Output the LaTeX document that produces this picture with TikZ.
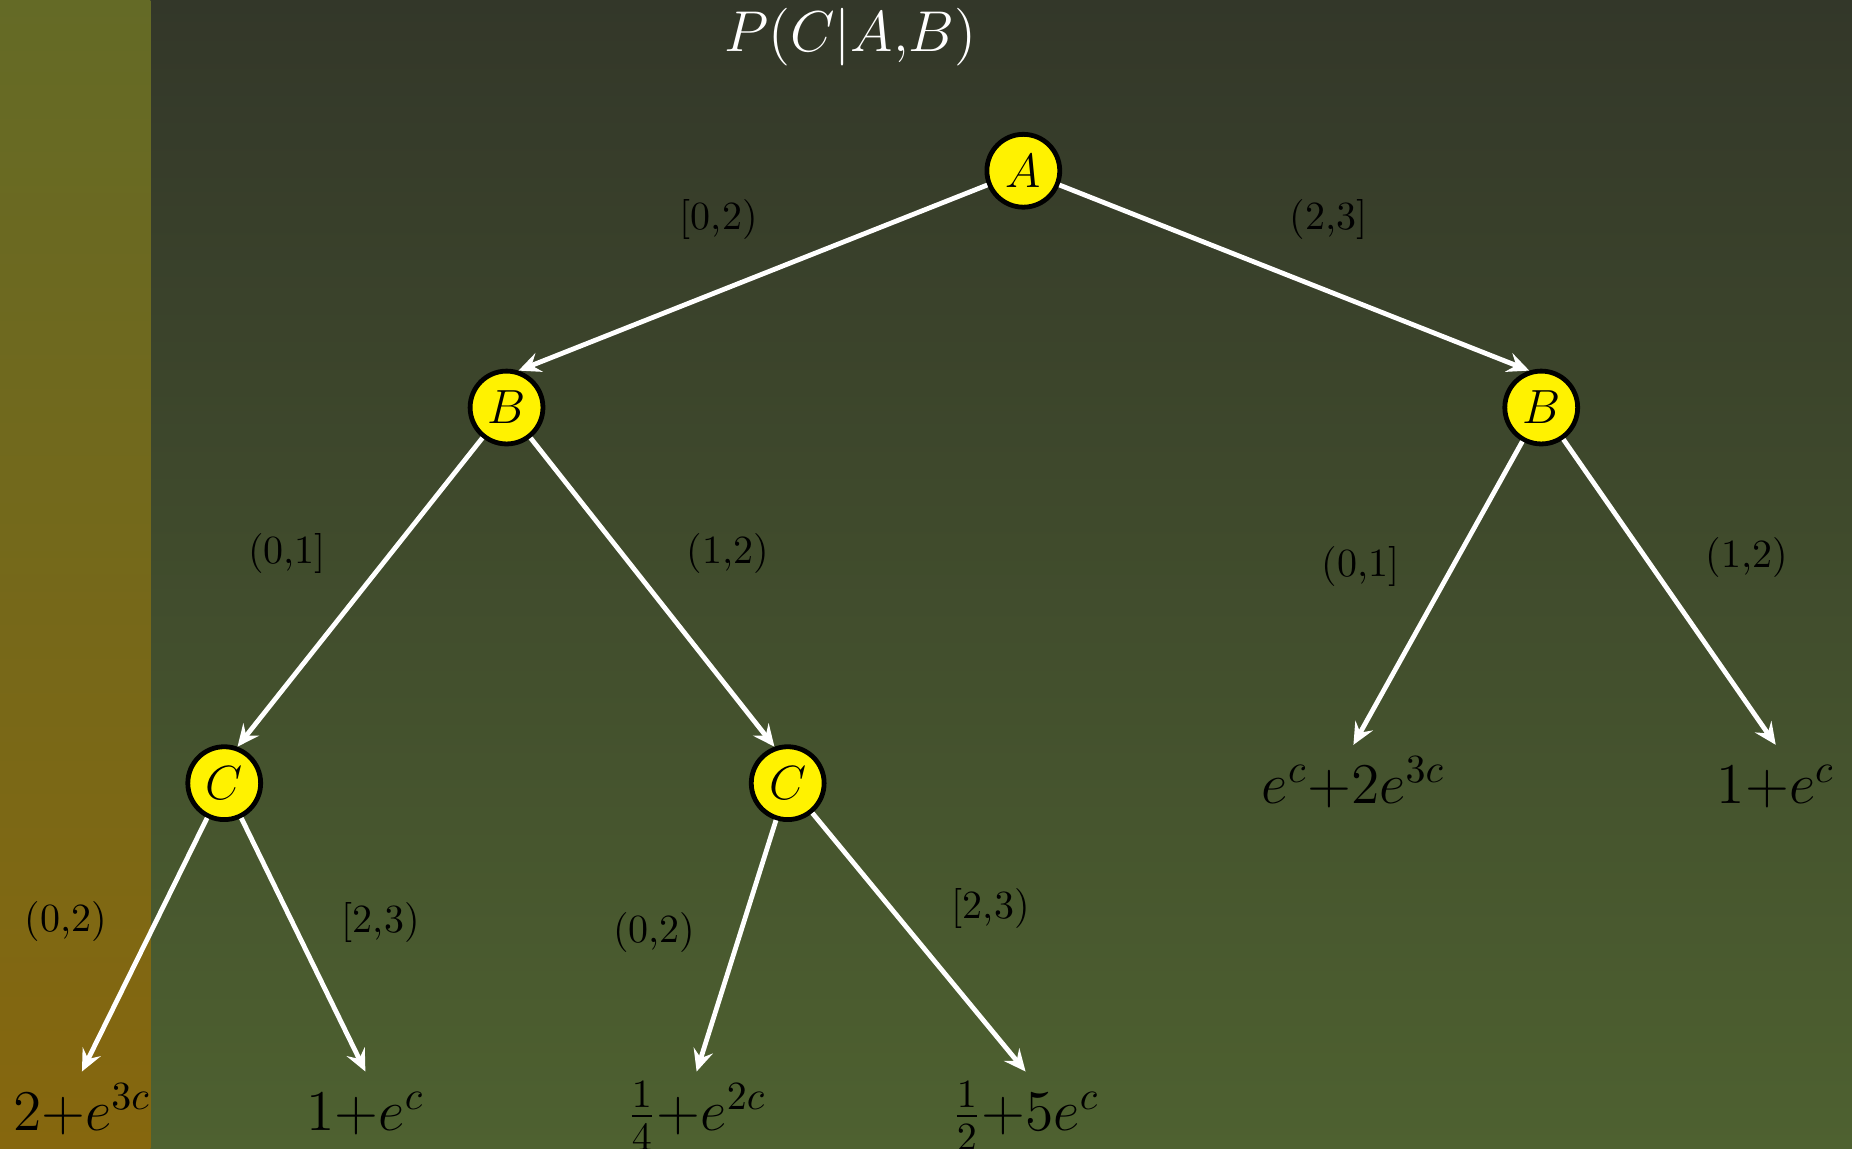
\documentclass[tikz,border=0pt]{standalone}
\usepackage{amsmath,amssymb}
\usepackage{xcolor}
\usepackage{tikz}
\usetikzlibrary{positioning,arrows.meta}

\definecolor{bgtop}{RGB}{51,55,41}
\definecolor{bgbot}{RGB}{78,97,48}
\definecolor{striptop}{RGB}{100,106,38}
\definecolor{stripbot}{RGB}{134,103,14}

\begin{document}
\begin{tikzpicture}[
    var/.style={circle, draw=black, fill=yellow, very thick,
                minimum size=0.64cm, inner sep=0pt, font=\large},
    leaf/.style={anchor=base, font=\Large, inner sep=2pt, text height=12.5pt, text=black},
    lbl/.style={font=\normalsize, text=black},
    arrow/.style={->, >={Stealth[length=5.5pt, width=5pt, inset=2pt]}, very thick, white}
]

% Background and left strip
\useasboundingbox (0,0) rectangle (16.27,-10.09);
\shade[top color=bgtop, bottom color=bgbot] (0,0) rectangle (16.27,-10.09);
\shade[top color=striptop, bottom color=stripbot] (0,0) rectangle (1.32,-10.09);

% Title
\node[text=white, font=\Large] (title) at (7.47,-0.33) {$P(C|A{,}B)$};

% Variable nodes
\node[var] (a) at (8.99,-1.50) {$A$};
\node[var] (b1) at (4.45,-3.58) {$B$};
\node[var] (b2) at (13.54,-3.58) {$B$};
\node[var] (c1) at (1.97,-6.88) {$C$};
\node[var] (c2) at (6.92,-6.88) {$C$};

% Leaves
\node[leaf] (r1) at (11.89,-7.06) {$e^c{+}2e^{3c}$};
\node[leaf] (r2) at (15.60,-7.06) {$1{+}e^c$};
\node[leaf] (l1) at (0.72,-9.93) {$2{+}e^{3c}$};
\node[leaf] (l2) at (3.21,-9.93) {$1{+}e^c$};
\node[leaf] (l3) at (6.12,-9.93) {$\frac{1}{4}{+}e^{2c}$};
\node[leaf] (l4) at (9.01,-9.93) {$\frac{1}{2}{+}5e^c$};

% Edges from A
\draw[arrow] (a) -- node[lbl, xshift=-0.30cm, yshift=0.51cm] {[0,2)} (b1.72);
\draw[arrow] (a) -- node[lbl, xshift=0.30cm, yshift=0.51cm] {(2,3]} (b2.108);

% Edges from B
\draw[arrow] (b1) -- node[lbl, xshift=-0.64cm, yshift=0.34cm] {(0,1]} (c1.70);
\draw[arrow] (b1) -- node[lbl, xshift=0.66cm, yshift=0.34cm] {(1,2)} (c2.110);
\draw[arrow] (b2) -- node[lbl, xshift=-0.68cm, yshift=0.23cm] {(0,1]} (r1.north);
\draw[arrow] (b2) -- node[lbl, xshift=0.68cm, yshift=0.30cm] {(1,2)} (r2.north);

% Edges from C
\draw[arrow] (c1) -- node[lbl, xshift=-0.69cm, yshift=0.20cm] {(0,2)} (l1.north);
\draw[arrow] (c1) -- node[lbl, xshift=0.68cm, yshift=0.20cm] {[2,3)} (l2.north);
\draw[arrow] (c2) -- node[lbl, xshift=-0.72cm, yshift=0.12cm] {(0,2)} (l3.north);
\draw[arrow] (c2) -- node[lbl, xshift=0.63cm, yshift=0.30cm] {[2,3)} (l4.north);

\end{tikzpicture}
\end{document}
